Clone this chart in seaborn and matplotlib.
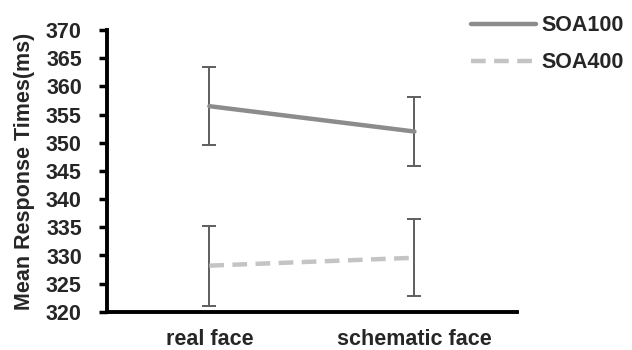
import pandas as pd
import matplotlib.pyplot as plt
import seaborn as sns

conditions = ["real face", "schematic face"]
soa100_mean = [356.5, 352.0]
soa100_err = [6.9, 6.1]
soa400_mean = [328.2, 329.6]
soa400_err = [7.1, 6.8]
y_ticks = list(range(320, 371, 5))

df = pd.DataFrame({
    "condition": conditions * 2,
    "rt": soa100_mean + soa400_mean,
    "err": soa100_err + soa400_err,
    "soa": ["SOA100"] * 2 + ["SOA400"] * 2,
})

sns.set_style("ticks")
plt.rcParams["font.family"] = ["Liberation Sans", "DejaVu Sans"]
plt.rcParams["font.weight"] = "bold"
fs = 15.5

fig = plt.figure(figsize=(6.32, 3.5), dpi=100)
ax = fig.add_axes([0.169, 0.109, 0.649, 0.805])

palette = {"SOA100": "#8c8c8c", "SOA400": "#c4c4c4"}
sns.lineplot(data=df, x="condition", y="rt", hue="soa", style="soa",
             palette=palette, dashes={"SOA100": "", "SOA400": (3.3, 1.9)},
             linewidth=3.2, ax=ax, zorder=3)

# error bars at the categorical positions
for name, g in df.groupby("soa"):
    ax.errorbar(range(len(g)), g["rt"], yerr=g["err"], fmt="none",
                ecolor="#5e5e5e", elinewidth=1.4, capsize=5, capthick=1.4, zorder=2)

ax.set_xlim(-0.5, 1.5)
ax.set_ylim(320, 370)
ax.set_yticks(y_ticks)
ax.set_xlabel("")
ax.set_ylabel("Mean Response Times(ms)", fontsize=fs, fontweight="bold", labelpad=8)
ax.tick_params(axis="y", labelsize=fs, width=2.5, length=6, pad=12, color="black")
ax.tick_params(axis="x", labelsize=fs, length=0, pad=12)
for lab in ax.get_xticklabels() + ax.get_yticklabels():
    lab.set_fontweight("bold")

sns.despine(ax=ax)
for side in ["left", "bottom"]:
    ax.spines[side].set_linewidth(2.8)
    ax.spines[side].set_color("black")

ax.legend(loc="upper left", bbox_to_anchor=(0.722, 1.0), bbox_transform=fig.transFigure,
          frameon=False, handlelength=3.0, handletextpad=0.25, labelspacing=0.75,
          borderpad=0.2, prop={"weight": "bold", "size": fs})

plt.savefig("out.png", dpi=100)
